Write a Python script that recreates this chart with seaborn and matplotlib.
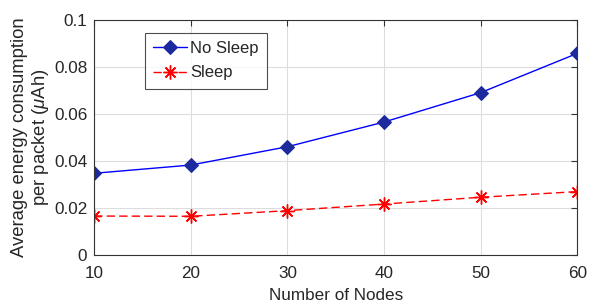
import matplotlib
matplotlib.use('Agg')
import matplotlib.pyplot as plt
import seaborn as sns
import pandas as pd

# datos
nodes = [10, 20, 30, 40, 50, 60]
no_sleep = [0.0348, 0.0383, 0.0461, 0.0566, 0.0691, 0.0858]
sleep = [0.0166, 0.0165, 0.0189, 0.0217, 0.0246, 0.0270]

sns.set_style('white')
plt.rcParams['font.family'] = ['Liberation Sans', 'DejaVu Sans']
plt.rcParams['mathtext.fontset'] = 'custom'
plt.rcParams['mathtext.it'] = 'Liberation Sans:italic'
plt.rcParams['mathtext.rm'] = 'Liberation Sans'

df = pd.DataFrame({'nodes': nodes, 'no_sleep': no_sleep, 'sleep': sleep})

fig = plt.figure(figsize=(6, 3.04), dpi=100)
ax = fig.add_axes([0.157, 0.161, 0.805, 0.773])

sns.lineplot(data=df, x='nodes', y='no_sleep', ax=ax, color='#0000ff', lw=1,
             marker='D', markersize=7, markerfacecolor='#1c2a9e',
             markeredgecolor='#1c2a9e', label='No Sleep')
sns.lineplot(data=df, x='nodes', y='sleep', ax=ax, color='#ff0000', lw=1,
             linestyle=(0, (6, 3)), marker=(8, 2, 0), markersize=10,
             markeredgecolor='#ff0000', markeredgewidth=1.0, label='Sleep')

ax.set_xlim(10, 60)
ax.set_ylim(0, 0.1)
ax.set_xticks(nodes)
ax.set_yticks([0, 0.02, 0.04, 0.06, 0.08, 0.1])
ax.set_yticklabels(['0', '0.02', '0.04', '0.06', '0.08', '0.1'])
ax.grid(True, color='#dddddd', lw=0.8)
ax.tick_params(direction='in', top=True, right=True, labelsize=12.3,
               length=4, color='#333333', labelcolor='#262626')
ax.tick_params(axis='x', pad=8)
ax.tick_params(axis='y', pad=5)
for s in ax.spines.values():
    s.set_color('#333333')
    s.set_linewidth(0.8)

ax.set_xlabel('Number of Nodes', fontsize=12.3, color='#262626', labelpad=5)
ax.set_ylabel('Average energy consumption\nper packet ($\\mu$Ah)',
              fontsize=13.3, color='#262626', linespacing=1.15, labelpad=2)

leg = ax.legend(loc='upper left', bbox_to_anchor=(0.105, 0.945), fontsize=12,
                frameon=True, fancybox=False, edgecolor='#222222',
                handlelength=2.0, handletextpad=0.2, borderpad=0.5,
                labelspacing=0.55, borderaxespad=0)
leg.get_frame().set_linewidth(0.8)

plt.savefig('out.png', dpi=100)
